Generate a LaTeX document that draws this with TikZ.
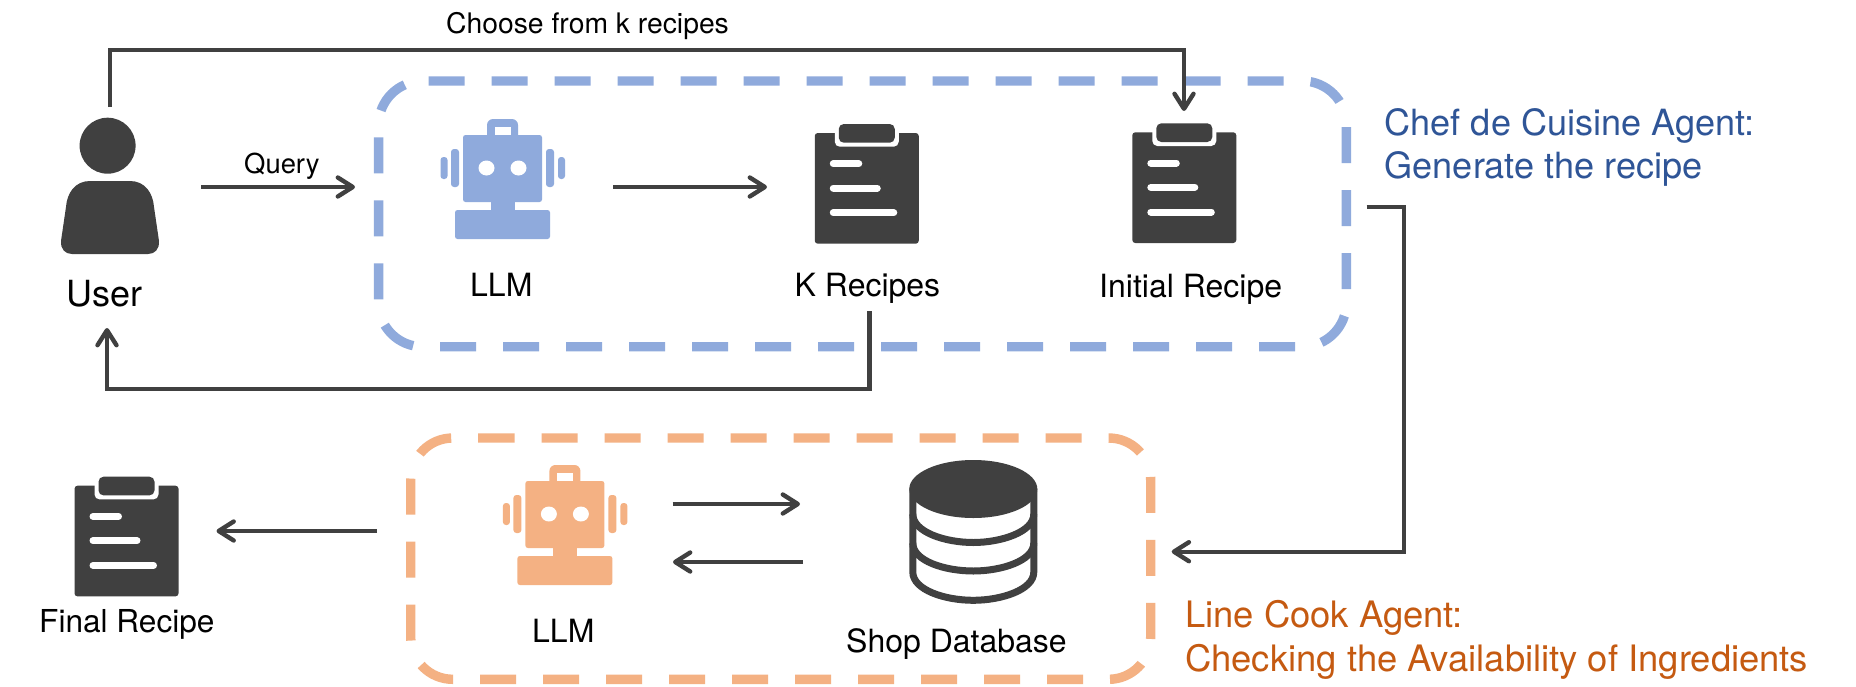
\documentclass[tikz,border=0pt]{standalone}
\usepackage{fontspec}
\setmainfont{TeX Gyre Heros}
\usetikzlibrary{arrows.meta}
\definecolor{boxblue}{HTML}{8FAADC}
\definecolor{boxorange}{HTML}{F4B183}
\definecolor{ink}{HTML}{404040}
\definecolor{titleblue}{HTML}{2F5597}
\definecolor{titleorange}{HTML}{C55A11}
\tikzset{
  flow/.style={draw=ink,line width=4.4pt,-{Straight Barb[length=15pt,width=19pt,round,line width=4.4pt]}},
  groupbox/.style={line width=9.4pt,dash pattern=on 36pt off 27pt},
  lab/.style={anchor=base west,inner sep=0pt,font=\fontsize{32}{36}\selectfont},
  smalllab/.style={anchor=base west,inner sep=0pt,font=\fontsize{28.3}{34}\selectfont},
  titlelab/.style={anchor=base west,inner sep=0pt,font=\fontsize{36.1}{40}\selectfont},
  titlelabwide/.style={anchor=base west,inner sep=0pt,font=\fontsize{36.4}{40}\selectfont},
  robot/.pic={
    \fill[#1,rounded corners=6pt] (-15.5,-16) rectangle (15.5,8);
    \fill[white] (-8,-8) rectangle (8,0);
    \fill[#1,rounded corners=2.5pt] (-39.5,0) rectangle (39.5,67);
    \fill[#1] (-12,66) rectangle (12,76);
    \fill[#1,rounded corners=2.5pt] (-47.5,75) rectangle (47.5,104);
    \fill[#1,rounded corners=3pt] (-51.5,14) rectangle (-43.5,52);
    \fill[#1,rounded corners=3pt] (-62,22) rectangle (-55,44);
    \fill[#1,rounded corners=3pt] (43.5,14) rectangle (51.5,52);
    \fill[#1,rounded corners=3pt] (55.5,22) rectangle (62.5,44);
    \fill[white] (-16,33) ellipse [x radius=8pt,y radius=7.5pt];
    \fill[white] (16,33) ellipse [x radius=8pt,y radius=7.5pt];
  },
  clipboard/.pic={
    \fill[ink,rounded corners=3pt] (-52,0) rectangle (52,110.7);
    \fill[white,rounded corners=5pt] (-32,-6) rectangle (32,13.7);
    \fill[ink,rounded corners=5pt] (-28,-9) rectangle (28,9.7);
    \draw[white,line width=7pt,line cap=round] (-33.5,30.7) -- (-8,30.7);
    \draw[white,line width=7pt,line cap=round] (-33.5,55) -- (10.5,55);
    \draw[white,line width=7pt,line cap=round] (-33.5,79.7) -- (27,79.7);
  }
}
\begin{document}
\begin{tikzpicture}[x=1pt,y=-1pt]
\useasboundingbox (0,0) rectangle (1856,686);
\fill[white] (0,0) rectangle (1856,686);

% group boxes
\draw[groupbox,draw=boxblue,rounded corners=44pt]
  (428.6,81) -- (1346.4,81) -- (1346.4,346.7) -- (378.6,346.7) -- (378.6,81) -- (428.6,81);
\draw[groupbox,draw=boxorange,rounded corners=42pt]
  (478.6,438) -- (1150.7,438) -- (1150.7,679.3) -- (410.7,679.3) -- (410.7,438) -- (478.6,438);

% user
\fill[ink] (107.6,145.7) circle [radius=28pt];
\fill[ink] (90,181) -- (130,181)
  .. controls (145,181) and (153,193) .. (154,207)
  -- (159,241) .. controls (159.5,249) and (155,254) .. (148,254)
  -- (72,254) .. controls (65,254) and (60.5,249) .. (61,241)
  -- (66,207) .. controls (67,193) and (75,181) .. (90,181) -- cycle;

% robots
\pic at (502.5,135) {robot=boxblue};
\pic at (564.9,481) {robot=boxorange};

% clipboards
\pic at (866.75,133) {clipboard};
\pic at (1184.3,132.3) {clipboard};
\pic at (126.5,485.7) {clipboard};

% database
\fill[ink] (973.3,489) ellipse [x radius=64pt,y radius=29pt];
\draw[ink,line width=7pt,line cap=round]
  (912.8,489) -- (912.8,572) .. controls (912.8,590) and (945,600.3) .. (973.3,600.3)
  .. controls (1001,600.3) and (1033.8,590) .. (1033.8,572) -- (1033.8,489);
\draw[ink,line width=7pt]
  (912.8,514) .. controls (912.8,532) and (945,542.5) .. (973.3,542.5)
  .. controls (1001,542.5) and (1033.8,532) .. (1033.8,514);
\draw[ink,line width=7pt]
  (912.8,543) .. controls (912.8,561) and (945,571) .. (973.3,571)
  .. controls (1001,571) and (1033.8,561) .. (1033.8,543);

% labels
\node[smalllab] (choose) at (446,33.2) {Choose from k recipes};
\node[smalllab,font=\fontsize{27.4}{34}\selectfont] (query) at (244,173.5) {Query};
\node[lab,font=\fontsize{36}{40}\selectfont] (user) at (66.5,306) {User};
\node[lab] (llmA) at (470,296) {LLM};
\node[lab] (krec) at (794.5,296) {K Recipes};
\node[lab] (init) at (1099,297) {Initial Recipe};
\node[lab,font=\fontsize{31.6}{36}\selectfont] (final) at (39,632) {Final Recipe};
\node[lab] (llmB) at (532,642.7) {LLM};
\node[lab] (shop) at (846,652.7) {Shop Database};
\node[titlelab,text=titleblue] (chefa) at (1384.5,135.5) {Chef de Cuisine Agent:};
\node[titlelab,text=titleblue] (chefb) at (1384.5,178.5) {Generate the recipe};
\node[titlelabwide,text=titleorange] (linea) at (1185,627) {Line Cook Agent:};
\node[titlelabwide,text=titleorange] (lineb) at (1185,671) {Checking the Availability of Ingredients};

% connector end points
\coordinate (userTop) at (110,107);
\coordinate (initTop) at (1184,111);
\coordinate (queryA) at (201,187);
\coordinate (queryB) at (355,187);
\coordinate (llmOut) at (613,187);
\coordinate (kIn) at (767,187);
\coordinate (kOut) at (869.6,311);
\coordinate (userIn) at (107,328);
\coordinate (chefOut) at (1366.5,206.7);
\coordinate (lineIn) at (1171.7,551.7);
\coordinate (lineOut) at (377,531);
\coordinate (finalIn) at (216.5,531);
\coordinate (toDbA) at (672.5,504);
\coordinate (toDbB) at (800,504);
\coordinate (fromDbA) at (803,562);
\coordinate (fromDbB) at (673,562);

% connectors
\draw[flow] (userTop) -- (110,50) -- (1184,50) -- (initTop);
\draw[flow] (queryA) -- (queryB);
\draw[flow] (llmOut) -- (kIn);
\draw[flow] (kOut) -- (869.6,388.7) -- (107,388.7) -- (userIn);
\draw[flow] (chefOut) -- (1404,206.7) -- (1404,551.7) -- (lineIn);
\draw[flow] (lineOut) -- (finalIn);
\draw[flow] (toDbA) -- (toDbB);
\draw[flow] (fromDbA) -- (fromDbB);
\end{tikzpicture}
\end{document}
